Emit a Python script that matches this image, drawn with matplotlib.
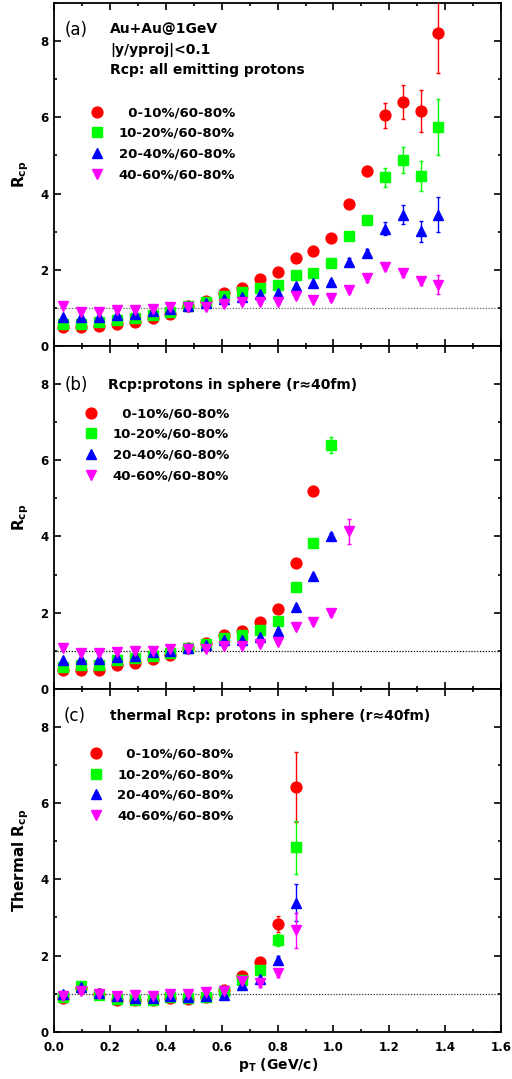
import matplotlib.pyplot as plt
from matplotlib.ticker import MultipleLocator

# pT bin centres (GeV/c)
pt = [0.032, 0.096, 0.160, 0.224, 0.288, 0.352, 0.416, 0.480, 0.544, 0.608, 0.672,
      0.736, 0.800, 0.864, 0.928, 0.992, 1.056, 1.120, 1.184, 1.248, 1.312, 1.376]

labels = ['\u20070-10%/60-80%', '10-20%/60-80%', '20-40%/60-80%', '40-60%/60-80%']

# (a) all emitting protons
a_r = [0.49, 0.49, 0.51, 0.58, 0.64, 0.74, 0.85, 1.04, 1.18, 1.40, 1.52, 1.75, 1.93, 2.30, 2.49, 2.83, 3.73, 4.60, 6.05, 6.40, 6.17, 8.21]
a_g = [0.58, 0.58, 0.62, 0.69, 0.72, 0.80, 0.89, 1.05, 1.15, 1.31, 1.42, 1.53, 1.60, 1.86, 1.91, 2.17, 2.88, 3.31, 4.43, 4.88, 4.46, 5.74]
a_b = [0.76, 0.77, 0.77, 0.80, 0.84, 0.92, 0.96, 1.05, 1.13, 1.23, 1.28, 1.35, 1.40, 1.57, 1.65, 1.67, 2.20, 2.44, 3.07, 3.44, 3.01, 3.44]
a_m = [1.06, 0.90, 0.90, 0.93, 0.95, 0.97, 1.01, 1.03, 1.02, 1.10, 1.15, 1.16, 1.16, 1.32, 1.21, 1.25, 1.47, 1.78, 2.08, 1.92, 1.71, 1.61]
ea_r = [0.02, 0.02, 0.02, 0.02, 0.02, 0.03, 0.03, 0.03, 0.04, 0.04, 0.05, 0.05, 0.06, 0.06, 0.07, 0.08, 0.08, 0.13, 0.33, 0.45, 0.56, 1.04]
ea_g = [0.02, 0.02, 0.02, 0.02, 0.02, 0.03, 0.03, 0.03, 0.03, 0.04, 0.04, 0.05, 0.05, 0.06, 0.06, 0.07, 0.08, 0.08, 0.25, 0.35, 0.40, 0.74]
ea_b = [0.02, 0.02, 0.02, 0.02, 0.02, 0.03, 0.03, 0.03, 0.03, 0.04, 0.04, 0.05, 0.05, 0.06, 0.06, 0.07, 0.10, 0.10, 0.17, 0.25, 0.28, 0.46]
ea_m = [0.02, 0.02, 0.02, 0.02, 0.02, 0.03, 0.03, 0.03, 0.03, 0.04, 0.04, 0.05, 0.05, 0.06, 0.07, 0.08, 0.08, 0.10, 0.10, 0.10, 0.10, 0.24]

# (b) protons in sphere
b_r = [0.50, 0.50, 0.50, 0.62, 0.67, 0.78, 0.89, 1.06, 1.19, 1.41, 1.53, 1.75, 2.10, 3.31, 5.19]
b_g = [0.58, 0.62, 0.62, 0.75, 0.80, 0.86, 0.95, 1.07, 1.18, 1.33, 1.40, 1.55, 1.78, 2.66, 3.84, 6.39]
b_b = [0.76, 0.78, 0.78, 0.84, 0.87, 0.96, 1.00, 1.06, 1.15, 1.27, 1.27, 1.37, 1.53, 2.14, 2.95, 4.02]
b_m = [1.07, 0.93, 0.93, 0.97, 0.99, 1.00, 1.04, 1.04, 1.05, 1.13, 1.12, 1.17, 1.23, 1.62, 1.76, 2.00, 4.13]
eb_r = [0.02, 0.02, 0.02, 0.02, 0.02, 0.03, 0.03, 0.03, 0.03, 0.04, 0.04, 0.05, 0.05, 0.06, 0.07]
eb_g = [0.02, 0.02, 0.02, 0.02, 0.02, 0.03, 0.03, 0.03, 0.03, 0.04, 0.04, 0.05, 0.05, 0.06, 0.07, 0.21]
eb_b = [0.02, 0.02, 0.02, 0.02, 0.02, 0.03, 0.03, 0.03, 0.03, 0.04, 0.04, 0.05, 0.05, 0.06, 0.07, 0.08]
eb_m = [0.02, 0.02, 0.02, 0.02, 0.02, 0.03, 0.03, 0.03, 0.03, 0.04, 0.04, 0.05, 0.05, 0.06, 0.06, 0.08, 0.33]

# (c) thermal protons in sphere
c_r = [0.89, 1.15, 1.00, 0.84, 0.83, 0.82, 0.89, 0.86, 0.91, 1.09, 1.46, 1.84, 2.83, 6.43]
c_g = [0.91, 1.19, 0.97, 0.86, 0.84, 0.84, 0.91, 0.89, 0.91, 1.06, 1.36, 1.62, 2.41, 4.84]
c_b = [1.00, 1.17, 1.02, 0.93, 0.89, 0.89, 0.93, 0.91, 0.95, 0.97, 1.23, 1.38, 1.88, 3.39]
c_m = [0.95, 1.06, 1.00, 0.95, 0.97, 0.95, 1.00, 1.00, 1.03, 1.06, 1.33, 1.28, 1.54, 2.66]
ec_r = [0.06, 0.08, 0.06, 0.08, 0.08, 0.08, 0.08, 0.08, 0.08, 0.08, 0.10, 0.12, 0.22, 0.92]
ec_g = [0.06, 0.08, 0.06, 0.08, 0.08, 0.08, 0.08, 0.08, 0.08, 0.08, 0.10, 0.10, 0.15, 0.69]
ec_b = [0.06, 0.08, 0.06, 0.08, 0.08, 0.08, 0.08, 0.08, 0.08, 0.08, 0.10, 0.10, 0.10, 0.49]
ec_m = [0.06, 0.08, 0.06, 0.08, 0.08, 0.08, 0.08, 0.08, 0.08, 0.08, 0.10, 0.10, 0.10, 0.46]

colors = ['#ff0000', '#00ff00', '#0000ff', '#ff00ff']
markers = ['o', 's', '^', 'v']
msizes = [7.8, 6.5, 7.7, 7.7]

plt.rcParams['font.family'] = 'DejaVu Sans'
plt.rcParams['font.weight'] = 'bold'

fig, axs = plt.subplots(3, 1, sharex=True, figsize=(5.12, 10.79), dpi=100)
fig.subplots_adjust(left=0.106, right=0.9785, top=0.9972, bottom=0.0438, hspace=0)

panels = [
    (axs[0], [a_r, a_g, a_b, a_m], [ea_r, ea_g, ea_b, ea_m], 'R$_\\mathbf{cp}$', '0.4'),
    (axs[1], [b_r, b_g, b_b, b_m], [eb_r, eb_g, eb_b, eb_m], 'R$_\\mathbf{cp}$', 'black'),
    (axs[2], [c_r, c_g, c_b, c_m], [ec_r, ec_g, ec_b, ec_m], 'Thermal R$_\\mathbf{cp}$', '0.2'),
]

for ax, ys, es, ylab, lc in panels:
    ax.axhline(1, color=lc, lw=0.9, ls=(0, (1, 1.3)), zorder=1)
    for y, e, c, m, s, lab in zip(ys, es, colors, markers, msizes, labels):
        ax.errorbar(pt[:len(y)], y, yerr=e, fmt=m, color=c, mec=c, ms=s,
                    elinewidth=1.0, capsize=1.5, capthick=1.0, label=lab, zorder=3)
    ax.set_xlim(0, 1.6)
    ax.set_ylim(0, 9)
    ax.xaxis.set_major_locator(MultipleLocator(0.2))
    ax.xaxis.set_minor_locator(MultipleLocator(0.1))
    ax.yaxis.set_major_locator(MultipleLocator(2))
    ax.yaxis.set_minor_locator(MultipleLocator(1))
    ax.tick_params(which='both', direction='in', top=True, right=True, width=1.2,
                   labelsize=8.5, pad=4)
    ax.tick_params(axis='x', pad=7)
    ax.tick_params(which='major', length=5)
    ax.tick_params(which='minor', length=2.5)
    for sp in ax.spines.values():
        sp.set_linewidth(1.3)
    ax.set_ylabel(ylab, fontsize=11, fontweight='bold', labelpad=7)
    for t in ax.get_xticklabels() + ax.get_yticklabels():
        t.set_fontweight('bold')

axs[2].xaxis.set_major_formatter(plt.FuncFormatter(lambda v, p: '%.1f' % v))
axs[2].set_xlabel('p$_\\mathbf{T}$ (GeV/c)', fontsize=10, fontweight='bold', labelpad=1)

# panel texts
axs[0].text(0.024, 0.922, '(a)', transform=axs[0].transAxes, fontsize=12, fontweight='normal', va='center')
axs[0].text(0.125, 0.924, 'Au+Au@1GeV', transform=axs[0].transAxes, fontsize=10, va='center')
axs[0].text(0.125, 0.864, '|y/yproj|<0.1', transform=axs[0].transAxes, fontsize=10, va='center')
axs[0].text(0.125, 0.805, 'Rcp: all emitting protons', transform=axs[0].transAxes, fontsize=10, va='center')
axs[1].text(0.024, 0.886, '(b)', transform=axs[1].transAxes, fontsize=12, fontweight='normal', va='center')
axs[1].text(0.121, 0.886, 'Rcp:protons in sphere (r\u224840fm)', transform=axs[1].transAxes, fontsize=10, va='center')
axs[2].text(0.020, 0.922, '(c)', transform=axs[2].transAxes, fontsize=12, fontweight='normal', va='center')
axs[2].text(0.125, 0.922, 'thermal Rcp: protons in sphere (r\u224840fm)', transform=axs[2].transAxes, fontsize=10, va='center')

# legends
leg_pos = [(0.081, 0.699), (0.067, 0.821), (0.078, 0.829)]
for ax, pos in zip(axs, leg_pos):
    h, l = ax.get_legend_handles_labels()
    h = [hh[0] for hh in h]
    ax.legend(h, l, loc='upper left', bbox_to_anchor=pos, frameon=False,
              prop={'size': 9.5, 'weight': 'bold'}, handlelength=1.0,
              handletextpad=1.15, labelspacing=0.58, borderpad=0, borderaxespad=0)

fig.savefig('out.png', dpi=100)
